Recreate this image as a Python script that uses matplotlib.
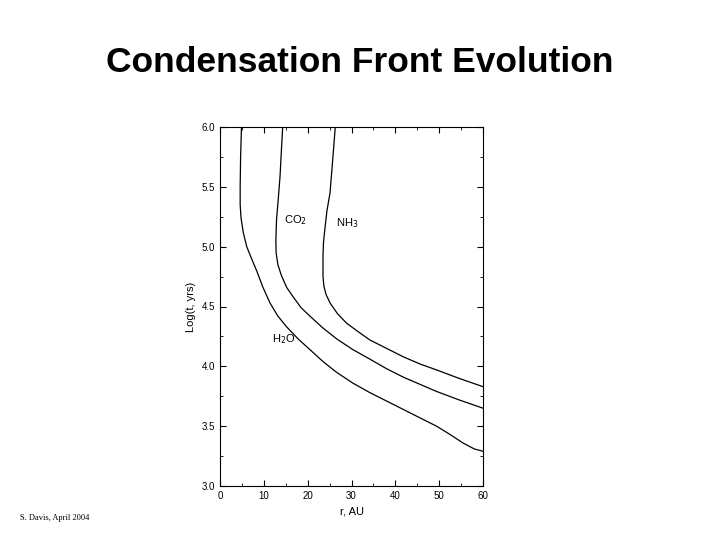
import matplotlib
matplotlib.use("Agg")
import matplotlib.pyplot as plt

h2o_r = [4.9, 4.7, 4.6, 4.6, 4.8, 5.3, 6.1, 7.2, 8.35, 9.8, 11.4, 13.2, 15.2, 17.8, 20.5, 23.5, 26.6, 30.3, 34.2, 38.0, 41.8, 45.6, 49.4, 52.5, 55.4, 58.0, 60]
h2o_t = [6.0, 5.75, 5.5, 5.35, 5.24, 5.12, 5.0, 4.9, 4.8, 4.66, 4.53, 4.42, 4.33, 4.23, 4.14, 4.04, 3.95, 3.86, 3.78, 3.71, 3.64, 3.57, 3.50, 3.43, 3.36, 3.31, 3.29]
co2_r = [14.3, 14.0, 13.7, 13.3, 12.9, 12.75, 12.8, 13.2, 14.0, 15.2, 16.7, 18.5, 20.5, 23.5, 26.6, 30.3, 34.2, 38.0, 41.8, 45.6, 49.4, 54.5, 60]
co2_t = [6.0, 5.8, 5.59, 5.4, 5.23, 5.05, 4.95, 4.85, 4.76, 4.66, 4.58, 4.49, 4.42, 4.32, 4.23, 4.14, 4.06, 3.98, 3.91, 3.85, 3.79, 3.72, 3.65]
nh3_r = [26.3, 25.7, 25.1, 24.4, 23.9, 23.6, 23.5, 23.5, 23.7, 24.2, 25.1, 26.8, 28.9, 31.5, 34.2, 38.0, 41.8, 45.6, 49.4, 54.5, 60]
nh3_t = [6.0, 5.72, 5.45, 5.3, 5.14, 5.03, 4.92, 4.75, 4.67, 4.6, 4.53, 4.44, 4.36, 4.29, 4.22, 4.15, 4.08, 4.02, 3.97, 3.9, 3.83]

plt.rcParams['font.family'] = ['Liberation Sans', 'DejaVu Sans']
fig = plt.figure(figsize=(7.2, 5.4), dpi=100)
ax = fig.add_axes([220/720, 54/540, 263/720, 359/540])
for r, t in [(h2o_r, h2o_t), (co2_r, co2_t), (nh3_r, nh3_t)]:
    ax.plot(r, t, color='black', lw=0.9)
ax.set_xlim(0, 60)
ax.set_ylim(3.0, 6.0)
ax.set_xticks(range(0, 61, 10))
ax.set_yticks([3.0, 3.5, 4.0, 4.5, 5.0, 5.5, 6.0])
ax.set_yticklabels(['3.0', '3.5', '4.0', '4.5', '5.0', '5.5', '6.0'])
ax.set_xticks(range(5, 60, 10), minor=True)
ax.set_yticks([3.25, 3.75, 4.25, 4.75, 5.25, 5.75], minor=True)
ax.tick_params(which='both', direction='in', top=True, right=True, labelsize=7)
ax.tick_params(which='major', length=4)
ax.tick_params(which='minor', length=2)
ax.set_xlabel('r, AU', fontsize=8)
ax.set_ylabel('Log(t, yrs)', fontsize=8)
ax.text(14.6, 5.2, 'CO$_2$', fontsize=8)
ax.text(26.5, 5.17, 'NH$_3$', fontsize=8)
ax.text(11.8, 4.2, 'H$_2$O', fontsize=8)
fig.text(0.5, 1 - 63/540, 'Condensation Front Evolution', ha='center', va='center',
         fontsize=25.5, fontweight='bold')
fig.text(20/720, 1 - 518/540, 'S. Davis, April 2004', fontsize=6, family='Liberation Serif', va='center')
fig.savefig('out.png')
